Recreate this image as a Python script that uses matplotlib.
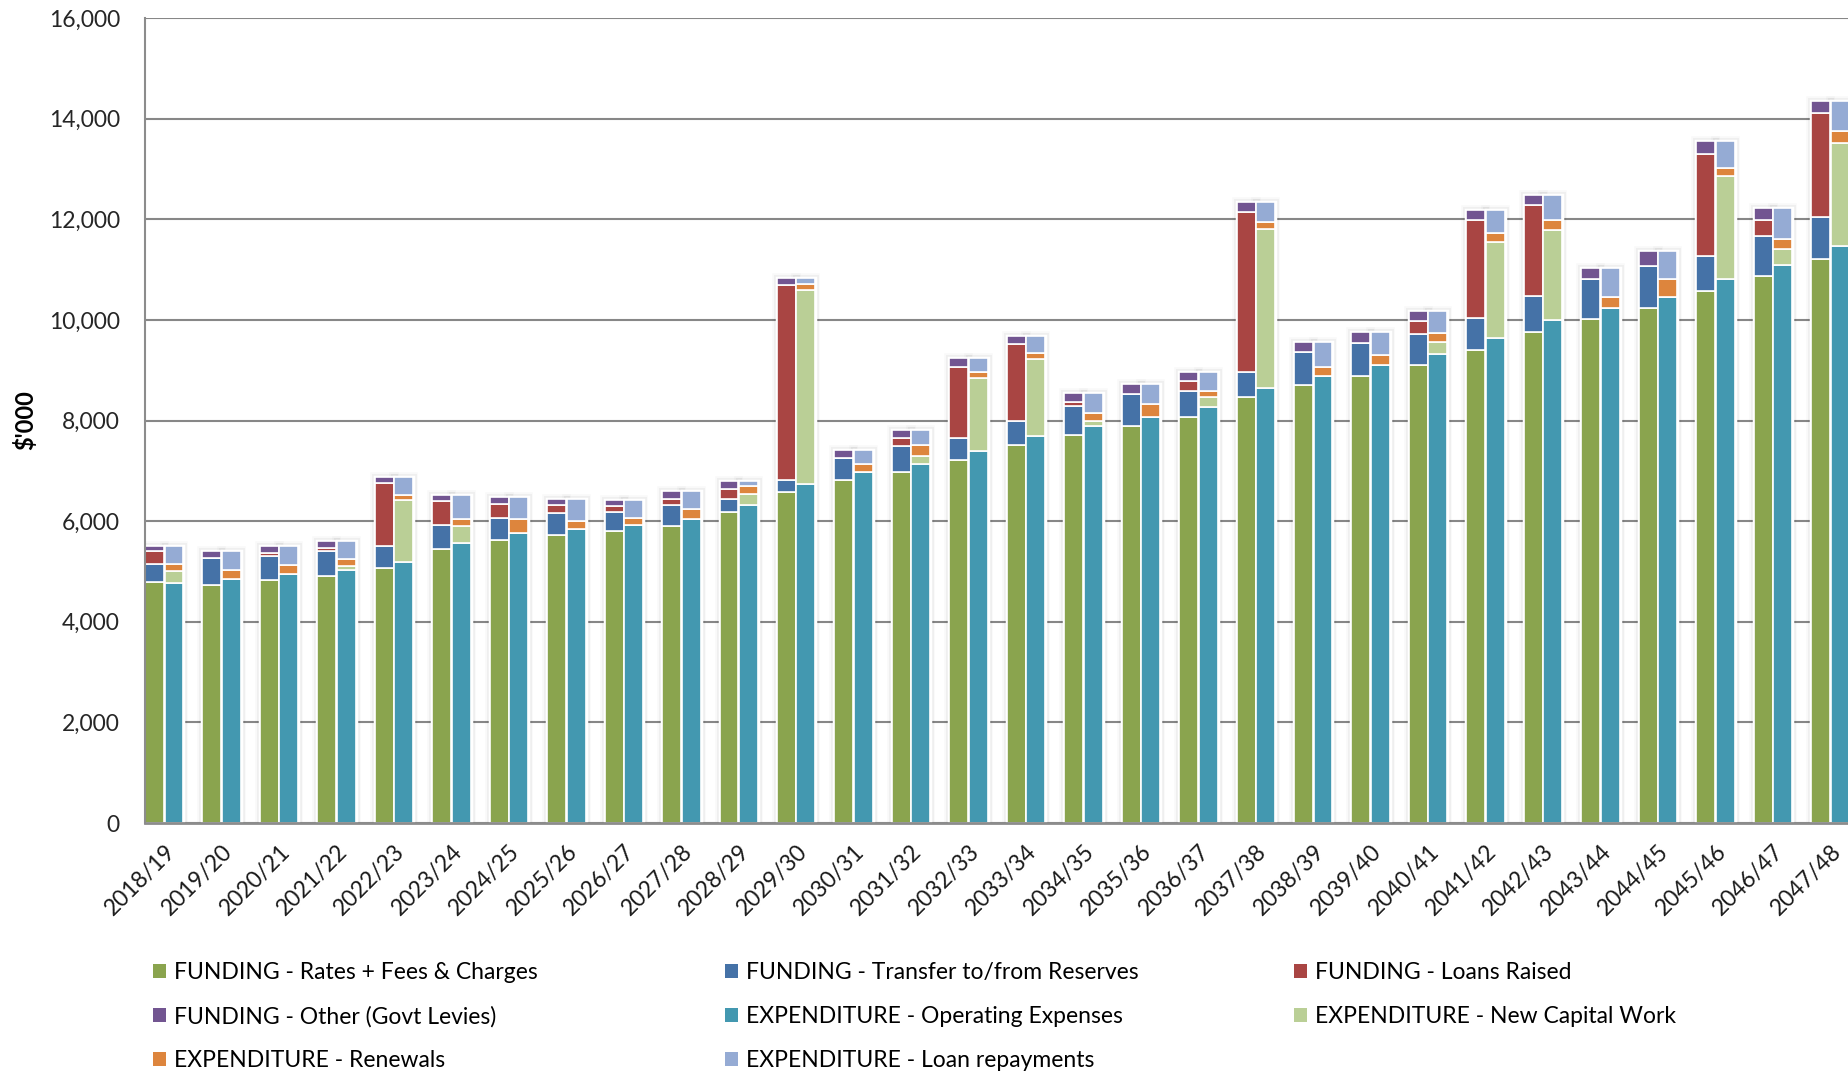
import matplotlib.pyplot as plt
import matplotlib.patheffects as pe
from matplotlib.patches import Patch
from matplotlib.ticker import FuncFormatter, MultipleLocator
import numpy as np

plt.rcParams['font.family'] = ['Lato', 'DejaVu Sans']

# --- data ($'000) ---
years = ['2018/19', '2019/20', '2020/21', '2021/22', '2022/23', '2023/24', '2024/25',
         '2025/26', '2026/27', '2027/28', '2028/29', '2029/30', '2030/31', '2031/32',
         '2032/33', '2033/34', '2034/35', '2035/36', '2036/37', '2037/38', '2038/39',
         '2039/40', '2040/41', '2041/42', '2042/43', '2043/44', '2044/45', '2045/46',
         '2046/47', '2047/48']

# funding side
rates = [4800, 4740, 4820, 4905, 5075, 5450, 5620, 5720, 5800, 5900, 6175, 6570, 6820, 6970, 7220,
         7520, 7715, 7890, 8065, 8465, 8715, 8890, 9095, 9410, 9765, 10015, 10240, 10565, 10865, 11205]
reserves = [350, 530, 480, 500, 425, 470, 450, 450, 380, 420, 270, 250, 425, 520, 425,
            475, 575, 630, 525, 495, 650, 650, 615, 630, 700, 795, 840, 705, 795, 835]
loans = [250, 0, 65, 70, 1250, 480, 270, 145, 125, 125, 200, 3870, 0, 155, 1420,
         1525, 75, 0, 205, 3175, 0, 0, 270, 1940, 1815, 0, 0, 2035, 325, 2065]
other = [100, 130, 135, 125, 120, 125, 130, 125, 120, 150, 150, 140, 170, 170, 175,
         165, 175, 200, 165, 200, 195, 220, 200, 200, 200, 225, 280, 245, 245, 240]

# expenditure side
operating = [4780, 4840, 4940, 5020, 5190, 5570, 5770, 5850, 5920, 6045, 6320, 6740, 6970, 7145, 7390,
             7690, 7890, 8065, 8265, 8640, 8890, 9095, 9315, 9635, 9995, 10235, 10460, 10810, 11090, 11460]
new_capital = [230, 0, 0, 85, 1225, 325, 0, 0, 0, 0, 225, 3850, 0, 145, 1450,
               1525, 100, 0, 205, 3170, 0, 0, 250, 1920, 1790, 0, 0, 2050, 325, 2065]
renewals = [140, 185, 180, 145, 100, 145, 270, 150, 150, 200, 150, 130, 160, 225, 120,
            125, 150, 255, 120, 145, 180, 200, 170, 170, 200, 225, 350, 150, 200, 225]
loan_repay = [350, 375, 380, 350, 355, 485, 430, 440, 355, 350, 100, 110, 285, 300, 280,
              345, 400, 400, 370, 380, 490, 465, 445, 455, 495, 575, 550, 540, 615, 595]

funding = [
    ('FUNDING - Rates + Fees & Charges', rates, '#8aa44e'),
    ('FUNDING - Transfer to/from Reserves', reserves, '#4572a7'),
    ('FUNDING - Loans Raised', loans, '#a94543'),
    ('FUNDING - Other (Govt Levies)', other, '#725591'),
]
expenditure = [
    ('EXPENDITURE - Operating Expenses', operating, '#4398b0'),
    ('EXPENDITURE - New Capital Work', new_capital, '#bacf96'),
    ('EXPENDITURE - Renewals', renewals, '#dd853d'),
    ('EXPENDITURE - Loan repayments', loan_repay, '#95abd4'),
]

fig = plt.figure(figsize=(18.49, 10.73), dpi=100)
ax = fig.add_axes([145 / 1849, 250 / 1073, 1 - 145 / 1849, 805 / 1073])

x = np.arange(len(years))
w = 0.33
off = 0.17

# soft shadow round each stacked column
halo = [pe.Stroke(linewidth=7, foreground='black', alpha=0.025),
        pe.Stroke(linewidth=5, foreground='black', alpha=0.04),
        pe.Stroke(linewidth=2.5, foreground='white'),
        pe.Normal()]


def stack(xpos, groups):
    total = np.sum([g[1] for g in groups], axis=0)
    back = ax.bar(xpos, total, w, color='white', linewidth=0, zorder=1.5)
    for b in back:
        b.set_path_effects(halo)
    bottom = np.zeros(len(xpos))
    for label, vals, col in groups:
        ax.bar(xpos, vals, w, bottom=bottom, color=col, edgecolor='white',
               linewidth=1.2, zorder=2, label=label)
        bottom += np.array(vals)


stack(x - off, funding)
stack(x + off, expenditure)

ax.set_xlim(-0.335, -0.335 + 1704 / 57.45)
ax.set_ylim(0, 16000)
ax.yaxis.set_major_locator(MultipleLocator(2000))
ax.yaxis.set_major_formatter(FuncFormatter(lambda v, p: f'{v:,.0f}'))
ax.grid(axis='y', color='#878787', linewidth=1.5)
ax.set_axisbelow(True)

for s in ['top', 'right']:
    ax.spines[s].set_visible(False)
ax.spines['left'].set_color('#8c8c8c')
ax.spines['left'].set_linewidth(1.5)
ax.spines['bottom'].set_color('#8c8c8c')
ax.spines['bottom'].set_linewidth(2)
ax.spines['bottom'].set_zorder(3)

fs = 16.5
ax.set_xticks(x)
ax.set_xticklabels(years, rotation=45, ha='right', rotation_mode='anchor')
ax.tick_params(axis='x', length=0, pad=13, labelsize=fs, labelcolor='#1a1a1a')
ax.tick_params(axis='y', length=0, pad=18, labelsize=fs, labelcolor='#262626')
ax.set_ylabel("$'000", fontsize=17, fontweight='bold', labelpad=8)

# legend laid out in three columns, filled row by row
cols = [
    ([funding[0], funding[3], expenditure[2]], 153),
    ([funding[1], expenditure[0], expenditure[3]], 725),
    ([funding[2], expenditure[1]], 1294),
]
for entries, px in cols:
    handles = [Patch(facecolor=c, edgecolor='none') for _, _, c in entries]
    labels = [lab for lab, _, _ in entries]
    fig.legend(handles, labels, loc='upper left', bbox_to_anchor=(px / 1849, 1 - 962 / 1073),
               frameon=False, fontsize=fs, handlelength=0.55, handleheight=0.55,
               handletextpad=0.35, labelspacing=1.0, borderpad=0, borderaxespad=0)

fig.savefig('out.png', dpi=100)
